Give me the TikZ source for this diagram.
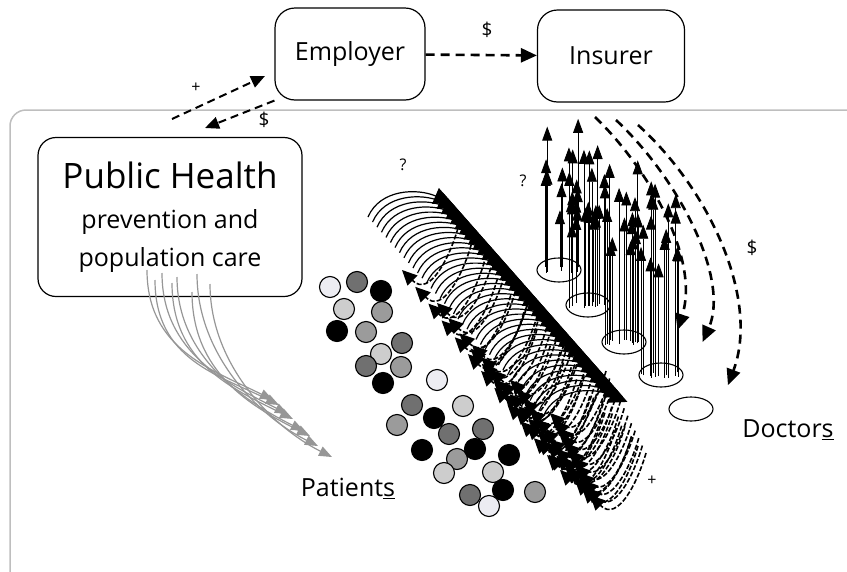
\documentclass[tikz,border=0pt]{standalone}
\usepackage{fontspec}
\setmainfont{Open Sans}
\usepackage{tikz}
\usetikzlibrary{arrows.meta,calc,positioning,shapes.geometric}
\definecolor{framegray}{RGB}{190,190,190}
\definecolor{flowgray}{RGB}{150,150,150}
\definecolor{pwhite}{RGB}{236,236,242}
\definecolor{plight}{RGB}{205,205,205}
\definecolor{pmid}{RGB}{155,155,155}
\definecolor{pdark}{RGB}{112,112,112}

\begin{document}
\begin{tikzpicture}[x=1pt,y=-1pt,
  box/.style={draw,line width=1.2pt,rounded corners=20pt,align=center,inner sep=0pt},
  doc/.style={draw,line width=1.1pt,ellipse,fill=white,minimum width=44pt,minimum height=24pt,inner sep=0pt},
  patient/.style={draw,line width=1.1pt,circle,minimum size=21pt,inner sep=0pt},
  money/.style={line width=2.6pt,dash pattern=on 9pt off 6pt,-{Triangle[length=16pt,width=14pt]}},
  link/.style={line width=2pt,dash pattern=on 8pt off 5pt,-{Triangle[length=14pt,width=12pt]}},
  public/.style={flowgray,line width=1.2pt,-{Triangle[length=13pt,width=10pt]}},
  query/.style={line width=1.2pt,-{Triangle[length=18pt,width=17pt]}},
  answer/.style={line width=1.6pt,dash pattern=on 5pt off 2pt,-{Triangle[length=15pt,width=14pt]}},
  upflow/.style={line width=0.8pt,-{Triangle[length=14pt,width=10pt]}},
  lbl/.style={inner sep=0pt,font=\fontsize{16}{18}\selectfont},
  big/.style={font=\fontsize{25}{30}\selectfont}
]
  \useasboundingbox (0,0) rectangle (847,571);
  \clip (0,0) rectangle (847,571);
  % outer frame
  \draw[framegray,line width=1.5pt,rounded corners=16pt] (10,110) rectangle (880,600);

  % top row
  \node[box,big,minimum width=150pt,minimum height=92pt] (emp) at (350,54) {Employer};
  \node[box,big,minimum width=147pt,minimum height=92pt] (ins) at (611,56) {Insurer};
  \node[box,rounded corners=18pt,minimum width=264pt,minimum height=159pt,
        font=\fontsize{25}{38}\selectfont] (ph) at (170,217)
    {{\fontsize{35}{40}\selectfont Public Health}\\[2pt]
     prevention and\\
     population care};

  \draw[money] (emp) -- (ins);
  \node[lbl,font=\fontsize{19}{20}\selectfont] at (487,30) {\$};
  \coordinate (plusfoot) at (172,119);
  \coordinate (plustip) at (265,76);
  \coordinate (paytip) at (205,128);
  \draw[link] (plusfoot) -- (plustip);
  \draw[link] (emp.south west) -- (paytip);
  \node[lbl] at (196,88) {+};
  \node[lbl,font=\fontsize{19}{20}\selectfont] at (264,120) {\$};

  % public health reaching patients
  \foreach \sx/\sy/\ex/\ey in {147/270/273/400, 155/280/279/405, 162/273/288/414, 172/283/293/419,
                              177/277/304/431, 192/292/310/436, 197/274/318/446, 210/284/332/457}
    \draw[public] (\sx,\sy) .. controls +(0,80) and +(-60,-30) .. (\ex,\ey);

  % doctors answering (+)
  \foreach \ax/\ay/\bx/\by in {402/270/547/455, 437/303/560/470, 472/345/575/480, 510/380/582/488, 550/413/590/495}
    \foreach \j in {0,...,11}
      \draw[answer] ($(\ax,\ay)!\j/11!(\bx,\by)+(56,-42)$) .. controls +(-8,28) and +(28,28) .. ($(\ax,\ay)!\j/11!(\bx,\by)$);

  % patients asking (?)
  \foreach \i in {0,...,39}
    \draw[query] ($(368,217)+\i*(4.5,5.1)$) .. controls +(12,-28) and +(-35,-15) .. ($(452,203)+\i*(4.5,5.1)$);

  % patients
  \foreach \px/\py/\pc [count=\n] in {330/287/pwhite, 357/282/pdark, 381/291/black, 344/309/plight,
      382/312/pmid, 337/331/black, 366/332/pmid, 402/343/pdark, 381/354/plight, 366/366/pdark,
      401/367/pmid, 383/383/black, 437/380/pwhite, 412/405/pdark, 397/425/pmid, 463/406/plight,
      434/418/black, 449/434/pdark, 483/429/pdark, 422/450/black, 457/459/pmid, 475/449/black,
      509/455/black, 444/473/plight, 493/472/plight, 503/490/black, 470/495/pdark, 489/506/pwhite,
      535/492/pmid}
    \node[patient,fill=\pc] (pat\n) at (\px,\py) {};

  % doctors
  \foreach \dx/\dy [count=\n] in {559/270, 588/305, 624/342, 661/375, 691/409}
    \node[doc] (doc\n) at (\dx,\dy) {};

  % doctors reporting to insurer
  \pgfmathsetseed{12}
  \foreach \cx/\cy/\tb in {559/270/118, 588/305/130, 624/342/150, 661/375/170}
    \foreach \k in {1,...,16}{
      \pgfmathsetmacro\vx{\cx+rand*20}
      \pgfmathsetmacro\vy{\tb+rnd*95}
      \draw[upflow] (\vx,\cy+rand*3) -- (\vx,\vy);
    }

  % insurer paying doctors
  \coordinate (payA) at (595,117);
  \coordinate (payB) at (616,120);
  \coordinate (payC) at (638,125);
  \draw[money] (payA) .. controls (650,170) and (700,260) .. ($(doc3.east)+(31,-12)$);
  \draw[money] (payB) .. controls (680,180) and (730,280) .. ($(doc4.east)+(19,-33)$);
  \draw[money] (payC) .. controls (710,190) and (760,300) .. ($(doc5.north east)+(21,-15)$);
  \node[lbl,font=\fontsize{19}{20}\selectfont] at (752,248) {\$};

  \node[lbl] at (403,165) {?};
  \node[lbl] at (523,181) {?};
  \node[lbl] at (652,481) {+};
  \node[big] (patients) at (348,488) {Patient\underline{s}};
  \node[big] (doctors) at (788,430) {Doctor\underline{s}};
\end{tikzpicture}
\end{document}
